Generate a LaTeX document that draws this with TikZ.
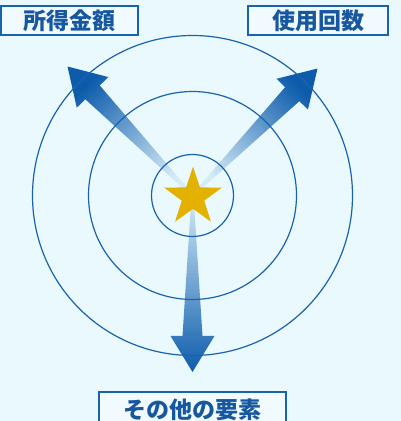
\documentclass[tikz,border=0pt]{standalone}
\usepackage{fontspec}
\newfontfamily\jp{Noto Sans CJK JP}
\usetikzlibrary{calc}
\definecolor{bg}{HTML}{EAF9FE}
\definecolor{boxfill}{HTML}{F0FAFF}
\definecolor{lineblue}{HTML}{1A62AE}
\definecolor{txtblue}{HTML}{1657A0}
\definecolor{gold}{HTML}{E3B100}
\definecolor{arrdark}{HTML}{0D5CAC}
\definecolor{arrmid}{HTML}{6FA6D8}
\definecolor{arrlight}{HTML}{D5ECF8}
\newcommand\bigarrow[3]{% #1 direction, #2 length, #3 shading angle
  \shade[bottom color=arrlight, middle color=arrmid, top color=arrdark, shading angle=#3]
    ($(c)+(#1+90:1)$) -- ($(c)+(#1:#2-36)+(#1+90:10)$) -- ($(c)+(#1:#2-36)+(#1+90:22)$)
    -- ($(c)+(#1:#2)$) -- ($(c)+(#1:#2-36)+(#1-90:22)$) -- ($(c)+(#1:#2-36)+(#1-90:10)$)
    -- ($(c)+(#1-90:1)$) -- cycle;}
\begin{document}
\begin{tikzpicture}[x=1pt,y=1pt,
  ring/.style={draw=lineblue, line width=1.2pt},
  label/.style={draw=lineblue, line width=1.2pt, fill=boxfill, text=txtblue,
    font=\jp\bfseries\fontsize{23}{26}\selectfont, inner sep=0pt}]
\clip (0,0) rectangle (401,421);
\fill[bg] (0,0) rectangle (401,421);
\coordinate (c) at (192.5,225.5);
\bigarrow{134.1}{179.6}{44.1}
\bigarrow{45.45}{178.2}{-44.55}
\bigarrow{-90}{176.5}{-180}
\draw[ring] (c) circle (160);
\draw[ring] (c) circle (104);
\draw[ring] (c) circle (41);
\coordinate (s) at (193,224);
\fill[gold] ($(s)+(90:30.5)$)
  \foreach \k in {0,...,4} {
    -- ($(s)+(90+72*\k+36:11.8)$) -- ($(s)+(90+72*\k+72:30.5)$)
  } -- cycle;
\node[label, minimum width=137pt, minimum height=29pt] (inc) at (69.5,400.5) {所得金額};
\node[label, minimum width=140pt, minimum height=29pt] (use) at (318,400.5) {使用回数};
\node[label, minimum width=187pt, minimum height=36pt] (oth) at (192.5,11) {その他の要素};
\end{tikzpicture}
\end{document}
